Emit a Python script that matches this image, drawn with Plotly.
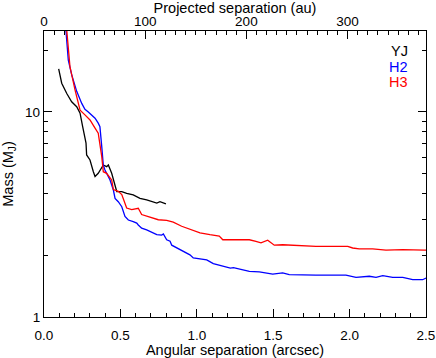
import plotly.graph_objects as go

# Angular separation (arcsec) and detection limits (Jupiter masses)
sep_yj = [0.096, 0.116, 0.149, 0.181, 0.214, 0.236, 0.253, 0.257, 0.275, 0.279, 0.301, 0.323, 0.334,
          0.355, 0.378, 0.388, 0.410, 0.421, 0.443, 0.465, 0.476, 0.509, 0.541, 0.584, 0.628, 0.672,
          0.715, 0.738, 0.759, 0.781, 0.798]
mass_yj = [16.2, 13.8, 12.3, 11.2, 10.6, 9.86, 8.48, 8.17, 7.04, 6.17, 5.83, 5.11, 4.84,
           5.02, 5.31, 5.51, 5.41, 5.51, 5.02, 4.40, 4.09, 4.09, 4.01, 3.94, 3.79, 3.72,
           3.65, 3.59, 3.65, 3.61, 3.56]

sep_h2 = [0.138, 0.159, 0.181, 0.214, 0.247, 0.268, 0.290, 0.334, 0.355, 0.366, 0.378, 0.388, 0.399,
          0.432, 0.454, 0.465, 0.486, 0.509, 0.530, 0.541, 0.552, 0.584, 0.607, 0.617, 0.639, 0.672,
          0.694, 0.715, 0.738, 0.770, 0.781, 0.803, 0.825, 0.836, 0.868, 0.912, 0.955, 0.977, 1.021,
          1.065, 1.108, 1.152, 1.191, 1.220, 1.240, 1.268, 1.344, 1.409, 1.497, 1.562, 1.605, 1.780,
          1.976, 2.042, 2.129, 2.173, 2.217, 2.282, 2.348, 2.413, 2.478, 2.500]
mass_h2 = [28.0, 17.9, 15.2, 12.6, 11.0, 10.3, 10.0, 9.32, 8.81, 8.48, 6.77, 5.51, 5.21,
           4.66, 4.16, 3.79, 3.65, 3.45, 3.09, 3.02, 2.97, 2.92, 2.87, 2.81, 2.71, 2.66,
           2.62, 2.56, 2.52, 2.51, 2.54, 2.38, 2.34, 2.24, 2.17, 2.09, 2.01, 1.94, 1.92,
           1.90, 1.82, 1.79, 1.75, 1.73, 1.74, 1.72, 1.67, 1.66, 1.62, 1.64, 1.61, 1.60,
           1.60, 1.56, 1.58, 1.56, 1.59, 1.56, 1.56, 1.52, 1.52, 1.55]

sep_h3 = [0.143, 0.170, 0.203, 0.236, 0.268, 0.301, 0.334, 0.355, 0.378, 0.384, 0.388, 0.410, 0.443,
          0.454, 0.486, 0.509, 0.530, 0.541, 0.574, 0.607, 0.617, 0.639, 0.672, 0.694, 0.748, 0.803,
          0.846, 0.901, 0.955, 1.021, 1.086, 1.147, 1.170, 1.235, 1.268, 1.344, 1.387, 1.420, 1.464,
          1.507, 1.562, 1.671, 1.780, 1.988, 2.020, 2.063, 2.151, 2.238, 2.348, 2.489, 2.500]
mass_h3 = [28.0, 16.6, 12.8, 10.2, 9.67, 9.14, 8.33, 7.87, 6.05, 5.62, 5.11, 5.02, 4.66,
           4.18, 4.10, 3.95, 3.52, 3.40, 3.34, 3.38, 3.39, 3.16, 3.11, 3.06, 2.98, 2.96,
           2.90, 2.77, 2.67, 2.57, 2.52, 2.48, 2.38, 2.38, 2.37, 2.38, 2.34, 2.30, 2.37,
           2.24, 2.25, 2.23, 2.21, 2.21, 2.17, 2.15, 2.15, 2.12, 2.13, 2.12, 2.12]

series_names = ["YJ", "H2", "H3"]
series_colors = ["black", "#0000ff", "#ff0000"]

distance_pc = 151.0  # au per arcsec
x_range = [0.0, 2.5]
y_range = [1.0, 24.8]
au_ticks = [0, 100, 200, 300]

FONT = "Liberation Sans, Arial, Helvetica, sans-serif"
TICK_SIZE = 13.5
TITLE_SIZE = 14.5

fig = go.Figure()
for sx, my, nm, col in zip([sep_yj, sep_h2, sep_h3], [mass_yj, mass_h2, mass_h3],
                           series_names, series_colors):
    fig.add_trace(go.Scatter(x=sx, y=my, mode="lines", name=nm,
                             line=dict(color=col, width=1.3), showlegend=False))

# invisible trace to carry the top (au) axis
fig.add_trace(go.Scatter(x=[x_range[0] * distance_pc, x_range[1] * distance_pc],
                         y=[y_range[0], y_range[0]], xaxis="x2", mode="lines",
                         line=dict(color="rgba(0,0,0,0)"), hoverinfo="skip", showlegend=False))

axis_common = dict(showline=True, linecolor="black", linewidth=1.3, ticks="inside",
                   tickcolor="black", tickwidth=1.2, showgrid=False, zeroline=False,
                   automargin=False,
                   tickfont=dict(family=FONT, size=TICK_SIZE, color="black"))

fig.update_layout(
    width=436, height=358,
    margin=dict(l=44, r=10, t=31, b=41),
    plot_bgcolor="white", paper_bgcolor="white",
    font=dict(family=FONT, size=TICK_SIZE, color="black"),
    xaxis=dict(range=x_range, dtick=0.5, tickformat=".1f", ticklen=8, ticklabelstandoff=6,
               minor=dict(dtick=0.1, ticks="inside", ticklen=4, tickcolor="black", tickwidth=1.2),
               title=dict(text="Angular separation (arcsec)", standoff=5,
                          font=dict(family=FONT, size=TITLE_SIZE)),
               **axis_common),
    xaxis2=dict(range=[x_range[0] * distance_pc, x_range[1] * distance_pc], overlaying="x",
                side="top", tickvals=au_ticks, ticklen=8, ticklabelstandoff=-2,
                minor=dict(dtick=10, ticks="inside", ticklen=4, tickcolor="black", tickwidth=1.2),
                title=dict(text="Projected separation (au)", standoff=2,
                           font=dict(family=FONT, size=TITLE_SIZE)),
                **axis_common),
    yaxis=dict(type="log", range=[0, 1.3945], tickvals=[1, 10], ticktext=["1", "10"],
               ticklen=8, mirror="ticks",
               minor=dict(tickvals=[2, 3, 4, 5, 6, 7, 8, 9, 20], ticks="inside", ticklen=4,
                          tickcolor="black", tickwidth=1.2),
               title=dict(text="Mass (M<sub>J</sub>)", standoff=8,
                          font=dict(family=FONT, size=TITLE_SIZE)),
               **axis_common),
)

legend_y = [0.931, 0.875, 0.822]
for nm, col, yy in zip(series_names, series_colors, legend_y):
    fig.add_annotation(text=nm, x=0.958, y=yy, xref="paper", yref="paper",
                       xanchor="right", yanchor="middle", showarrow=False,
                       font=dict(family=FONT, size=TITLE_SIZE, color=col))

fig.write_html("out.html", config={"displayModeBar": False},
               post_script="document.body.style.margin='0px';document.body.style.padding='0px';")
